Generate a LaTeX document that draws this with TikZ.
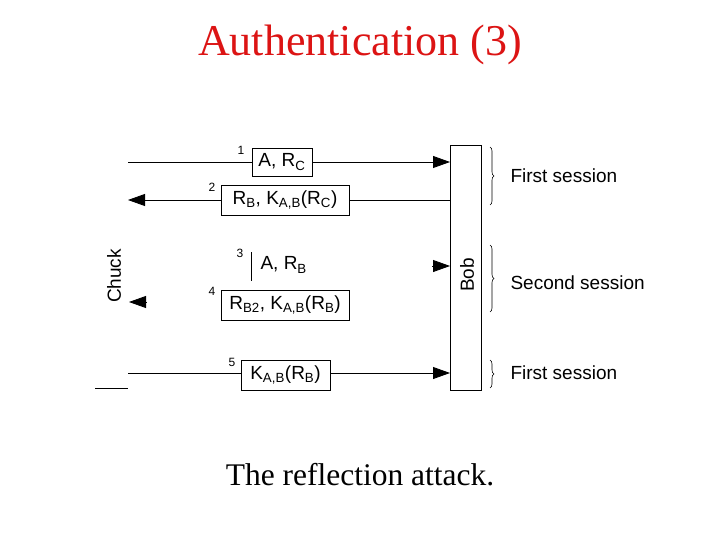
\documentclass[tikz,border=0pt]{standalone}
\usepackage{fontspec}
\setmainfont{Liberation Serif}
\newfontfamily\sansf{Liberation Sans}
\usetikzlibrary{decorations.pathreplacing,arrows.meta}
\definecolor{titlered}{RGB}{220,20,20}
\begin{document}
\begin{tikzpicture}[x=1pt,y=-1pt,
  msg/.style={draw,line width=0.8pt,inner sep=2pt,font=\sansf\fontsize{19}{19}\selectfont},
  num/.style={font=\sansf\fontsize{12}{12}\selectfont},
  lbl/.style={anchor=west,font=\sansf\fontsize{19}{19}\selectfont},
  ln/.style={line width=0.8pt},
  tip/.style={-{Triangle[length=17pt,width=12pt]}},
  br/.style={decorate,decoration={brace,amplitude=4pt},line width=0.6pt}]
\useasboundingbox (0,0) rectangle (720,540);
\node[text=titlered,font=\fontsize{44}{44}\selectfont] (title) at (360,45) {Authentication (3)};
\node[font=\fontsize{31.5}{31.5}\selectfont] (cap) at (360,475) {The reflection attack.};
\node[draw,line width=0.8pt,minimum width=31pt,minimum height=245pt] (bob) at (465.5,267.5) {};
\node[rotate=90,font=\sansf\fontsize{19}{19}\selectfont] (bobl) at (467,275) {Bob};
\node[rotate=90,font=\sansf\fontsize{19}{19}\selectfont] (chuck) at (114,276) {Chuck};
% 1
\coordinate (c1) at (128,162); \coordinate (b1) at (450,162);
\node[msg,minimum width=60pt,minimum height=28pt] (m1) at (282,162) {A, R\textsubscript{C}};
\draw[ln] (c1) -- (m1.west); \draw[ln,tip] (m1.east) -- (b1);
\node[num] (n1) at (241,150) {1};
% 2
\coordinate (c2) at (128,200); \coordinate (b2) at (450,200);
\node[msg,minimum width=128pt,minimum height=30pt] (m2) at (285,200) {R\textsubscript{B}, K\textsubscript{A,B}(R\textsubscript{C})};
\draw[ln] (b2) -- (m2.east); \draw[ln,tip] (m2.west) -- (c2);
\node[num] (n2) at (212,187) {2};
% 3
\coordinate (a3) at (432,266); \coordinate (b3) at (450,266);
\draw[ln,tip] (a3) -- (b3);
\node[font=\sansf\fontsize{19}{19}\selectfont,anchor=west] (m3) at (257,265) {A, R\textsubscript{B}};
\coordinate (l3a) at (251,252); \coordinate (l3b) at (251,281);
\draw[ln] (l3a) -- (l3b);
\node[num] (n3) at (240,253) {3};
% 4
\coordinate (a4) at (146,302); \coordinate (c4) at (129,302);
\draw[ln,tip] (a4) -- (c4);
\node[msg,minimum width=128pt,minimum height=30pt] (m4) at (285,305) {R\textsubscript{B2}, K\textsubscript{A,B}(R\textsubscript{B})};
\node[num] (n4) at (212,291) {4};
% 5
\coordinate (c5) at (128,373); \coordinate (b5) at (450,373);
\node[msg,minimum width=89pt,minimum height=30pt] (m5) at (285.5,375) {K\textsubscript{A,B}(R\textsubscript{B})};
\draw[ln] (c5) -- (m5.west |- c5); \draw[ln,tip] (m5.east |- b5) -- (b5);
\node[num] (n5) at (232,362) {5};
\coordinate (f1) at (95,388); \coordinate (f2) at (128,388);
\draw[ln] (f1) -- (f2);
% braces
\coordinate (s1) at (490,147); \coordinate (e1) at (490,205);
\coordinate (s2) at (490,245); \coordinate (e2) at (490,312);
\coordinate (s3) at (490,360); \coordinate (e3) at (490,388);
\draw[br] (s1) -- (e1); \draw[br] (s2) -- (e2); \draw[br] (s3) -- (e3);
\node[lbl] (t1) at (507,176) {First session};
\node[lbl] (t2) at (507,283) {Second session};
\node[lbl] (t3) at (507,373) {First session};
\end{tikzpicture}
\end{document}
